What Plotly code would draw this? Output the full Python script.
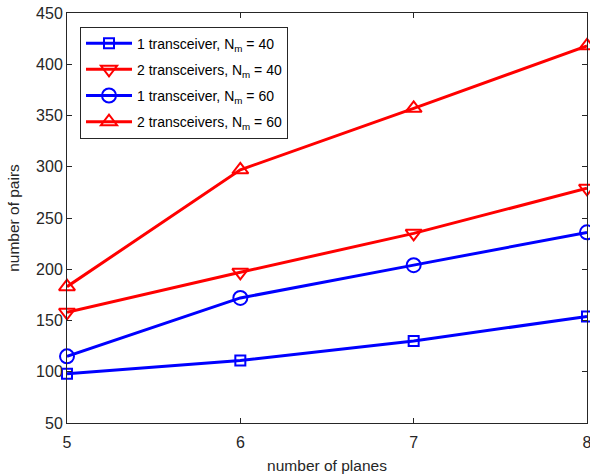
import plotly.graph_objects as go

planes = [5, 6, 7, 8]
one_tx_40 = [98, 111, 130, 154]
two_tx_40 = [158, 197, 235, 279]
one_tx_60 = [115, 172, 204, 236]
two_tx_60 = [183, 297, 357, 418]

names = ["1 transceiver, N<sub>m</sub> = 40", "2 transceivers, N<sub>m</sub> = 40",
         "1 transceiver, N<sub>m</sub> = 60", "2 transceivers, N<sub>m</sub> = 60"]
series = [one_tx_40, two_tx_40, one_tx_60, two_tx_60]
colors = ["#0000ff", "#ff0000", "#0000ff", "#ff0000"]
symbols = ["square-open", "triangle-down-open", "circle-open", "triangle-up-open"]
sizes = [10, 14, 14, 14]

fig = go.Figure()
for i, (n, s, c, sym, sz) in enumerate(zip(names, series, colors, symbols, sizes)):
    fig.add_trace(go.Scatter(x=planes, y=s, name=n, mode="lines+markers", legendgroup=f"g{i}",
                             line=dict(color=c, width=3),
                             marker=dict(symbol=sym, size=sz, color=c, line=dict(color=c, width=2)),
                             cliponaxis=False))

axcol = "#262626"
fig.update_layout(
    width=590, height=474,
    margin=dict(l=67, r=3, t=13, b=51),
    paper_bgcolor="white", plot_bgcolor="white",
    font=dict(family="Liberation Sans, Arial, sans-serif", size=16, color=axcol),
    showlegend=True,
    legend=dict(x=0.025, y=0.967, xanchor="left", yanchor="top",
                bordercolor=axcol, borderwidth=1, bgcolor="white", itemwidth=46,
                font=dict(size=14, color="black"), tracegroupgap=5),
    xaxis=dict(range=[5, 8], tickvals=planes, ticks="inside", ticklen=5, tickcolor=axcol,
               showline=True, linecolor=axcol, linewidth=1, mirror="ticks", showgrid=False,
               zeroline=False, automargin=False, ticklabeloverflow="allow", ticklabelstandoff=5,
               title=dict(text="number of planes", standoff=14, font=dict(size=15.5))),
    yaxis=dict(range=[50, 450], dtick=50, ticks="inside", ticklen=5, tickcolor=axcol,
               showline=True, linecolor=axcol, linewidth=1, mirror="ticks", showgrid=False,
               zeroline=False, automargin=False, ticklabeloverflow="allow",
               title=dict(text="number of pairs", standoff=12, font=dict(size=15.5))),
)

fig.write_html("out.html", config={"displayModeBar": False},
               post_script="document.body.style.margin='0';")
